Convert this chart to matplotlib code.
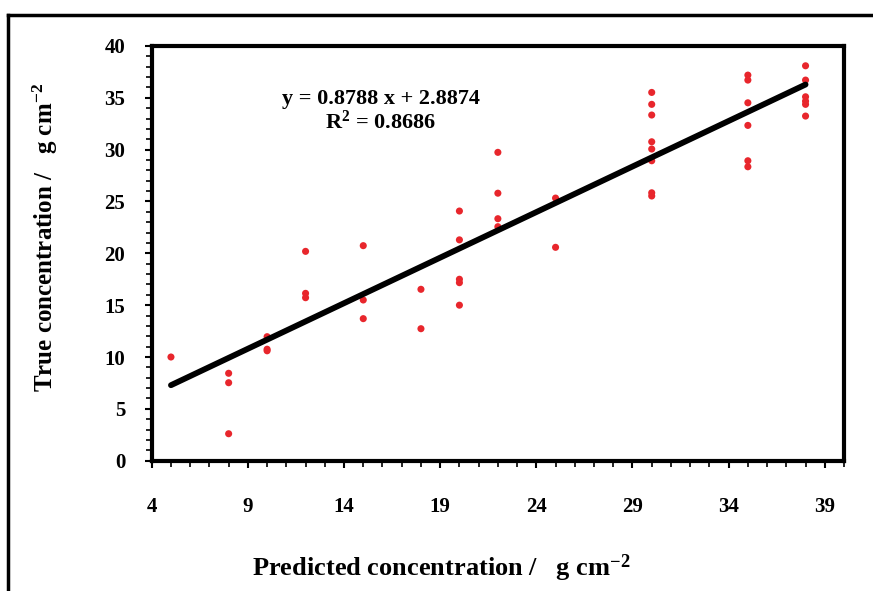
import matplotlib.pyplot as plt
import numpy as np
from matplotlib.lines import Line2D
from matplotlib.ticker import MultipleLocator, FixedLocator

plt.rcParams['font.family'] = ['Liberation Serif', 'DejaVu Serif']
plt.rcParams['font.weight'] = 'bold'
plt.rcParams['mathtext.fontset'] = 'custom'
plt.rcParams['mathtext.rm'] = 'Liberation Serif:bold'
plt.rcParams['mathtext.bf'] = 'Liberation Serif:bold'
plt.rcParams['mathtext.default'] = 'bf'

# DATA (predicted x, true y)
X5, Y5 = 5, [10.0]
X8, Y8 = 8, [8.43, 7.52, 2.6]
X10, Y10 = 10, [11.96, 10.75, 10.6]
X12, Y12 = 12, [20.19, 16.14, 15.72]
X15, Y15 = 15, [20.74, 15.5, 13.7]
X18, Y18 = 18, [16.53, 12.73]
X20, Y20 = 20, [24.08, 21.3, 17.5, 17.17, 15.0]
X22, Y22 = 22, [29.74, 25.8, 23.34, 22.57]
X25, Y25 = 25, [25.33, 20.58]
X30, Y30 = 30, [35.52, 34.37, 33.34, 30.76, 30.06, 28.93, 25.84, 25.53]
X35, Y35 = 35, [37.19, 36.71, 34.52, 32.34, 28.93, 28.35]
X38, Y38 = 38, [38.09, 36.71, 35.1, 34.68, 34.37, 33.24]

groups = [(X5, Y5), (X8, Y8), (X10, Y10), (X12, Y12), (X15, Y15), (X18, Y18),
          (X20, Y20), (X22, Y22), (X25, Y25), (X30, Y30), (X35, Y35), (X38, Y38)]

# trendline
SLOPE = 0.8788
INTERCEPT = 2.8874
R2 = 0.8686

XTICKS = [4, 9, 14, 19, 24, 29, 34, 39]
YTICKS = [0, 5, 10, 15, 20, 25, 30, 35, 40]

# PLOT
fig = plt.figure(figsize=(8.73, 5.91), dpi=100)
ax = fig.add_axes([0.1738, 0.2205, 0.793, 0.7017])

for gx, gy in groups:
    ax.scatter([gx] * len(gy), gy, s=26, color='#e8262c', edgecolors='none', zorder=3)

xl = np.array([X5, X38])
ax.plot(xl, SLOPE * xl + INTERCEPT, color='black', lw=4.2, solid_capstyle='round', zorder=4)

ax.set_xlim(4, 40)
ax.set_ylim(0, 40)
ax.xaxis.set_major_locator(FixedLocator(XTICKS))
ax.xaxis.set_minor_locator(MultipleLocator(1))
ax.yaxis.set_major_locator(FixedLocator(YTICKS))
ax.yaxis.set_minor_locator(MultipleLocator(1))

for s in ax.spines.values():
    s.set_linewidth(3)
ax.tick_params(which='major', direction='out', length=5, width=1.5, labelsize=15)
ax.tick_params(which='minor', direction='out', length=4, width=1.2)
ax.tick_params(axis='x', pad=21)
ax.tick_params(axis='y', pad=14)

ax.text(15.9, 33.7, 'y = %.4f x + %.4f\nR$^2$ = %.4f' % (SLOPE, INTERCEPT, R2),
        ha='center', va='center', fontsize=16, fontweight='bold', linespacing=1.1)

ax.set_xlabel('Predicted concentration /   g cm$^{-2}$', fontsize=19, fontweight='bold', labelpad=26)
ax.set_ylabel('True concentration /   g cm$^{-2}$', fontsize=18, fontweight='bold', labelpad=32)
ax.xaxis.label.set_x(0.418)
ax.yaxis.label.set_y(0.537)

# outer frame
fig.add_artist(Line2D([0.0095, 0.0095], [0, 0.975], color='black', lw=2.5))
fig.add_artist(Line2D([0.0095, 1.0], [0.975, 0.975], color='black', lw=2.5))

fig.savefig('out.png', dpi=100)
